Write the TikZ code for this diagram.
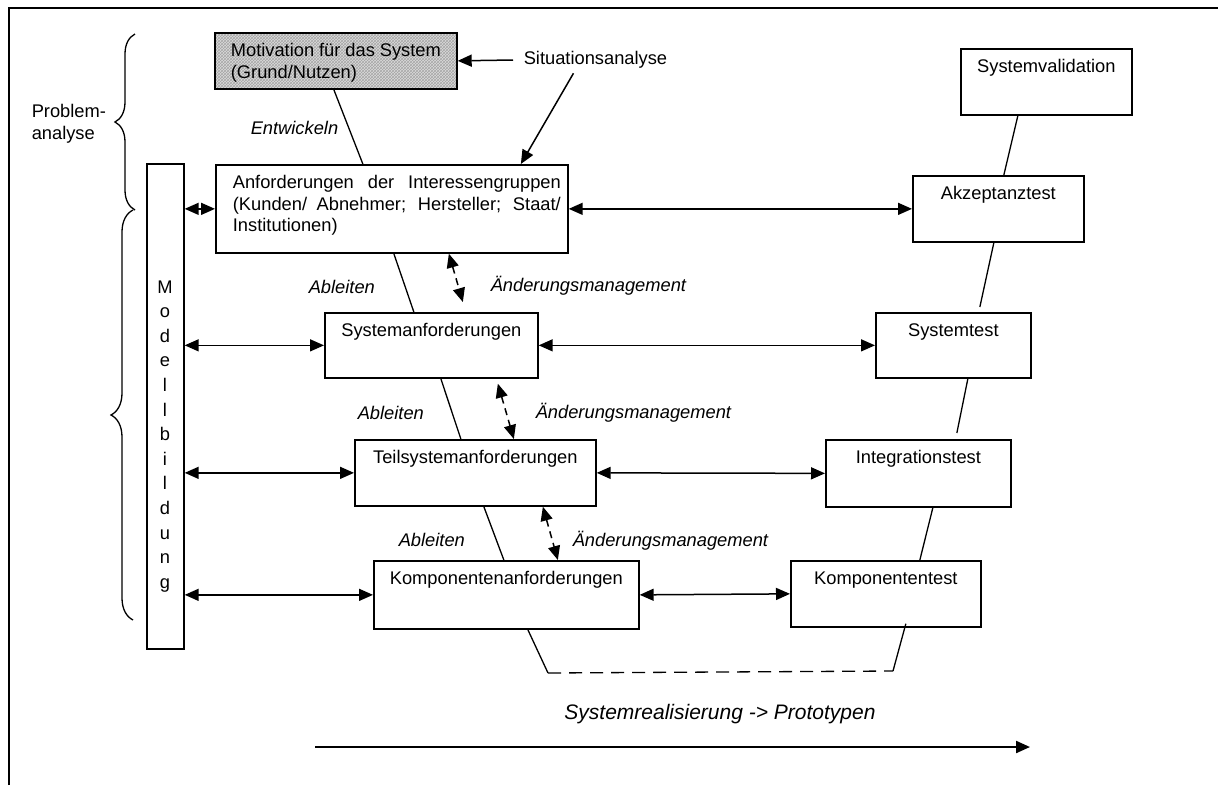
\documentclass[tikz,border=0pt]{standalone}
\usepackage{fontspec}
\setmainfont{Liberation Sans}
\usetikzlibrary{arrows.meta,decorations.pathreplacing,patterns}
\begin{document}
\begin{tikzpicture}[x=1pt, y=-1pt, line width=1.5pt,
  every node/.style={font=\fontsize{18.3}{21.5}\selectfont},
  box/.style={draw, rectangle, line width=1.7pt, anchor=north west, inner sep=0pt, text height=24pt},
  lab/.style={font=\fontsize{18.3}{21.5}\selectfont\itshape, inner sep=0pt},
  tip/.style={-{Triangle[length=14pt,width=12pt]}},
  dbl/.style={{Triangle[length=14pt,width=12pt]}-{Triangle[length=14pt,width=12pt]}},
  link/.style={line width=1.3pt}]
  \useasboundingbox (0,0) rectangle (1218,785);
  \draw[line width=2pt] (9,785) -- (9,8) -- (1218,8);
  \node[box, minimum width=242pt, minimum height=56pt, text depth=32pt, preaction={fill=black!14}, pattern=crosshatch, pattern color=black!35] (motiv) at (214,32) {\parbox[t]{210pt}{Motivation für das System\\(Grund/Nutzen)}};
  \node[anchor=west, inner sep=4pt] (situ) at (519,60) {Situationsanalyse};
  \node[box, minimum width=352pt, minimum height=88pt, text depth=64pt] (anf) at (215,164) {\hspace{10pt}\parbox[t]{328pt}{\makebox[328pt][s]{Anforderungen der Interessengruppen}\\\makebox[328pt][s]{(Kunden/ Abnehmer; Hersteller; Staat/}\\Institutionen)}};
  \node[box, minimum width=213pt, minimum height=65pt, text depth=41pt] (sysanf) at (324,312) {Systemanforderungen};
  \node[box, minimum width=241pt, minimum height=66pt, text depth=42pt] (teil) at (354,439) {Teilsystemanforderungen};
  \node[box, minimum width=265pt, minimum height=68pt, text depth=44pt] (komp) at (373,560) {Komponentenanforderungen};
  \node[box, minimum width=171pt, minimum height=66pt, text depth=42pt] (sysval) at (960,48) {Systemvalidation};
  \node[box, minimum width=171pt, minimum height=66pt, text depth=42pt] (akz) at (912,175) {Akzeptanztest};
  \node[box, minimum width=155pt, minimum height=65pt, text depth=41pt] (systest) at (875,312) {Systemtest};
  \node[box, minimum width=185pt, minimum height=67pt, text depth=43pt] (integ) at (825,439) {Integrationstest};
  \node[box, minimum width=190pt, minimum height=66pt, text depth=42pt] (komptest) at (790,560) {Komponententest};
  \node[draw, line width=1.7pt, anchor=north west, inner sep=0pt, minimum width=37pt, minimum height=485pt] (bar) at (146,163) {};
  \foreach \c [count=\i from 0] in {M,o,d,e,l,l,b,i,l,d,u,n,g}
    \node[anchor=base, inner sep=0pt] (mb\i) at (165,293+24.6*\i) {\c};
  \node[anchor=west, inner sep=0pt, align=left] (probl) at (31,124) {Problem-\\analyse};
  \draw[link, decorate, decoration={brace, amplitude=20pt}] (135,210) -- (135,34);
  \draw[link, decorate, decoration={brace, amplitude=22pt}] (133,620) -- (133,210);
  \node[lab, anchor=base west] (entw) at (250,134) {Entwickeln};
  \node[lab, anchor=base west] (abl1) at (308,293) {Ableiten};
  \node[lab, anchor=base west] (abl2) at (357,419) {Ableiten};
  \node[lab, anchor=base west] (abl3) at (398,546) {Ableiten};
  \node[lab, anchor=base west] (aend1) at (490,291) {Änderungsmanagement};
  \node[lab, anchor=base west] (aend2) at (535,418) {Änderungsmanagement};
  \node[lab, anchor=base west] (aend3) at (572,546) {Änderungsmanagement};
  \node[lab, font=\fontsize{21}{24}\selectfont\itshape, anchor=base] (real) at (720,719) {Systemrealisierung -> Prototypen};
  \draw[link] ([xshift=-2pt]motiv.south) -- ([xshift=-29pt]anf.north);
  \draw[link] ([xshift=2pt]anf.south) -- ([xshift=-17.5pt]sysanf.north);
  \draw[link] ([xshift=9.5pt]sysanf.south) -- ([xshift=-14.5pt]teil.north);
  \draw[link] ([xshift=8.5pt]teil.south) -- ([xshift=-2.5pt]komp.north);
  \coordinate (r1) at (548,673);
  \coordinate (r2) at (893,671);
  \draw[link] ([xshift=21.5pt]komp.south) -- (r1);
  \draw[link, dash pattern=on 13pt off 8pt] (r1) -- (r2);
  \draw[link] (r2) -- ([xshift=20pt,yshift=4pt]komptest.south);
  \draw[link] ([xshift=-28.5pt]sysval.south) -- ([xshift=5.5pt]akz.north);
  \draw[link] ([xshift=-4.5pt]akz.south) -- ([xshift=26.5pt,yshift=5pt]systest.north);
  \draw[link] ([xshift=14.5pt]systest.south) -- ([xshift=38.5pt,yshift=6pt]integ.north);
  \draw[link] ([xshift=14.5pt]integ.south) -- ([xshift=34pt]komptest.north);
  \draw[dbl] (anf.west -| bar.east) -- (anf.west);
  \draw[dbl] (sysanf.west -| bar.east) -- (sysanf.west);
  \draw[dbl] (teil.west -| bar.east) -- (teil.west);
  \draw[dbl] (komp.west -| bar.east) -- (komp.west);
  \draw[dbl] (anf.east) -- (akz.west);
  \draw[dbl] (sysanf.east) -- (systest.west);
  \draw[dbl] (teil.east) -- (integ.west);
  \draw[dbl] (komp.east) -- (komptest.west);
  \draw[dbl, dash pattern=on 7pt off 5pt] ([xshift=57pt]anf.south) -- ([xshift=31.5pt,yshift=10pt]sysanf.north);
  \draw[dbl, dash pattern=on 7pt off 5pt] ([xshift=66.5pt,yshift=-5pt]sysanf.south) -- ([xshift=38.5pt]teil.north);
  \draw[dbl, dash pattern=on 7pt off 5pt] ([xshift=67.5pt]teil.south) -- ([xshift=51.5pt]komp.north);
  \draw[tip] ([xshift=-6pt]situ.west) -- (motiv.east);
  \draw[tip] ([xshift=-22pt]situ.south) -- ([xshift=129pt]anf.north);
  \coordinate (p1) at (315,747);
  \coordinate (p2) at (1030,747);
  \draw[tip, line width=2.2pt] (p1) -- (p2);
\end{tikzpicture}
\end{document}
